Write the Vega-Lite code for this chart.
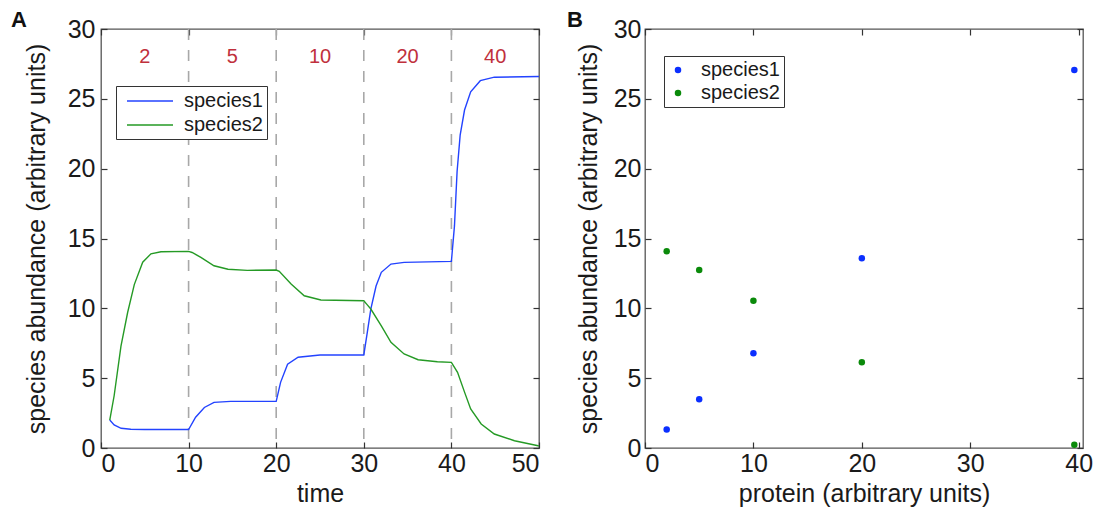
{
  "$schema": "https://vega.github.io/schema/vega-lite/v6.json",
  "background": "white",
  "padding": {"left": 10, "top": 8, "right": 5, "bottom": 5},
  "spacing": 23,
  "resolve": {"scale": {"color": "independent"}, "legend": {"color": "independent"}},
  "config": {
    "font": "Liberation Sans",
    "view": {"stroke": "#555", "strokeWidth": 1.3},
    "axis": {
      "labelFont": "Liberation Sans", "titleFont": "Liberation Sans",
      "labelFontSize": 25, "titleFontSize": 25, "titleFontWeight": "normal",
      "labelColor": "#1a1a1a", "titleColor": "#1a1a1a",
      "domain": false, "grid": false, "tickSize": -6, "tickColor": "#333", "tickWidth": 1.2
    },
    "axisX": {"titlePadding": 5, "labelPadding": 9},
    "axisY": {"labelPadding": 12},
    "legend": {
      "labelFont": "Liberation Sans", "labelFontSize": 20, "labelColor": "#1a1a1a",
      "strokeColor": "#333", "fillColor": "white", "padding": 4, "rowPadding": 3
    },
    "title": {"font": "Liberation Sans", "fontSize": 22, "fontWeight": "bold", "color": "#111"}
  },
  "datasets": {
    "timecourse": [
      {"t": 1.0, "v": 2.0, "species": "species1"},
      {"t": 1.5, "v": 1.65, "species": "species1"},
      {"t": 2.3, "v": 1.41, "species": "species1"},
      {"t": 3.4, "v": 1.34, "species": "species1"},
      {"t": 5, "v": 1.32, "species": "species1"},
      {"t": 10, "v": 1.32, "species": "species1"},
      {"t": 10.8, "v": 2.2, "species": "species1"},
      {"t": 11.8, "v": 2.9, "species": "species1"},
      {"t": 12.9, "v": 3.27, "species": "species1"},
      {"t": 14.8, "v": 3.34, "species": "species1"},
      {"t": 20, "v": 3.34, "species": "species1"},
      {"t": 20.5, "v": 4.7, "species": "species1"},
      {"t": 21.3, "v": 6.0, "species": "species1"},
      {"t": 22.5, "v": 6.5, "species": "species1"},
      {"t": 25, "v": 6.66, "species": "species1"},
      {"t": 30, "v": 6.66, "species": "species1"},
      {"t": 30.4, "v": 8.28, "species": "species1"},
      {"t": 30.8, "v": 9.95, "species": "species1"},
      {"t": 31.4, "v": 11.6, "species": "species1"},
      {"t": 32, "v": 12.58, "species": "species1"},
      {"t": 33.1, "v": 13.17, "species": "species1"},
      {"t": 34.6, "v": 13.29, "species": "species1"},
      {"t": 40, "v": 13.36, "species": "species1"},
      {"t": 40.35, "v": 15.9, "species": "species1"},
      {"t": 40.65, "v": 19.8, "species": "species1"},
      {"t": 41.0, "v": 22.4, "species": "species1"},
      {"t": 41.5, "v": 24.2, "species": "species1"},
      {"t": 42.2, "v": 25.5, "species": "species1"},
      {"t": 43.3, "v": 26.3, "species": "species1"},
      {"t": 44.9, "v": 26.55, "species": "species1"},
      {"t": 50, "v": 26.6, "species": "species1"},
      {"t": 1.0, "v": 2.0, "species": "species2"},
      {"t": 1.5, "v": 3.74, "species": "species2"},
      {"t": 2.28, "v": 7.3, "species": "species2"},
      {"t": 3.04, "v": 9.7, "species": "species2"},
      {"t": 3.8, "v": 11.7, "species": "species2"},
      {"t": 4.76, "v": 13.3, "species": "species2"},
      {"t": 5.7, "v": 13.9, "species": "species2"},
      {"t": 6.85, "v": 14.05, "species": "species2"},
      {"t": 10, "v": 14.08, "species": "species2"},
      {"t": 10.4, "v": 14.0, "species": "species2"},
      {"t": 11.4, "v": 13.65, "species": "species2"},
      {"t": 12.9, "v": 13.05, "species": "species2"},
      {"t": 14.5, "v": 12.8, "species": "species2"},
      {"t": 16.7, "v": 12.72, "species": "species2"},
      {"t": 20, "v": 12.74, "species": "species2"},
      {"t": 20.35, "v": 12.65, "species": "species2"},
      {"t": 21.7, "v": 11.74, "species": "species2"},
      {"t": 23.2, "v": 10.9, "species": "species2"},
      {"t": 25.1, "v": 10.6, "species": "species2"},
      {"t": 30, "v": 10.54, "species": "species2"},
      {"t": 30.4, "v": 10.25, "species": "species2"},
      {"t": 30.8, "v": 9.95, "species": "species2"},
      {"t": 32, "v": 8.75, "species": "species2"},
      {"t": 33.1, "v": 7.57, "species": "species2"},
      {"t": 34.6, "v": 6.73, "species": "species2"},
      {"t": 36.2, "v": 6.32, "species": "species2"},
      {"t": 38.4, "v": 6.18, "species": "species2"},
      {"t": 40, "v": 6.13, "species": "species2"},
      {"t": 40.7, "v": 5.42, "species": "species2"},
      {"t": 41.5, "v": 4.0, "species": "species2"},
      {"t": 42.2, "v": 2.8, "species": "species2"},
      {"t": 43.4, "v": 1.72, "species": "species2"},
      {"t": 44.9, "v": 1.0, "species": "species2"},
      {"t": 47.2, "v": 0.52, "species": "species2"},
      {"t": 49.9, "v": 0.16, "species": "species2"},
      {"t": 50, "v": 0.15, "species": "species2"}
    ],
    "switches": [{"t": 10}, {"t": 20}, {"t": 30}, {"t": 40}],
    "levels": [
      {"t": 5, "protein": "2"},
      {"t": 15, "protein": "5"},
      {"t": 25, "protein": "10"},
      {"t": 35, "protein": "20"},
      {"t": 45, "protein": "40"}
    ],
    "steady": [
      {"protein": 2, "v": 1.32, "species": "species1"},
      {"protein": 5, "v": 3.49, "species": "species1"},
      {"protein": 10, "v": 6.79, "species": "species1"},
      {"protein": 20, "v": 13.59, "species": "species1"},
      {"protein": 39.6, "v": 27.07, "species": "species1"},
      {"protein": 2, "v": 14.09, "species": "species2"},
      {"protein": 5, "v": 12.75, "species": "species2"},
      {"protein": 10, "v": 10.54, "species": "species2"},
      {"protein": 20, "v": 6.14, "species": "species2"},
      {"protein": 39.6, "v": 0.23, "species": "species2"}
    ]
  },
  "hconcat": [
    {
      "width": 438, "height": 419,
      "title": {"text": "A", "anchor": "start", "frame": "group", "dx": -90, "offset": -15},
      "resolve": {"axis": {"x": "independent", "y": "independent"}},
      "layer": [
        {
          "data": {"name": "switches"},
          "mark": {"type": "rule", "color": "#a8a8a8", "strokeWidth": 1.6, "strokeDash": [11, 10]},
          "encoding": {
            "x": {"field": "t", "type": "quantitative", "scale": {"domain": [0, 50], "nice": false},
                  "axis": {"orient": "top", "labels": false, "title": null, "values": [0, 10, 20, 30, 40, 50]}}
          }
        },
        {
          "data": {"name": "levels"},
          "mark": {"type": "text", "color": "#c0303c", "fontSize": 20, "baseline": "middle", "font": "Liberation Sans"},
          "encoding": {
            "x": {"field": "t", "type": "quantitative", "axis": null},
            "y": {"datum": 28, "type": "quantitative", "scale": {"domain": [0, 30], "nice": false},
                  "axis": {"orient": "right", "labels": false, "title": null, "values": [0, 5, 10, 15, 20, 25, 30]}},
            "text": {"field": "protein"}
          }
        },
        {
          "data": {"name": "timecourse"},
          "mark": {"type": "line", "strokeWidth": 1.4},
          "encoding": {
            "x": {"field": "t", "type": "quantitative", "title": "time",
                  "axis": {"values": [0, 10, 20, 30, 40, 50]}},
            "y": {"field": "v", "type": "quantitative", "title": "species abundance (arbitrary units)",
                  "axis": {"values": [0, 5, 10, 15, 20, 25, 30], "titlePadding": 18}},
            "color": {"field": "species", "type": "nominal",
                      "scale": {"domain": ["species1", "species2"], "range": ["#2343ff", "#259a25"]},
                      "legend": {"title": null, "orient": "none", "legendX": 15, "legendY": 57,
                                 "symbolType": "M-0.4,0H4.2", "symbolSize": 400, "symbolStrokeWidth": 1.4,
                                 "labelOffset": 42}}
          }
        }
      ]
    },
    {
      "width": 438, "height": 419,
      "title": {"text": "B", "anchor": "start", "frame": "group", "dx": -78, "offset": -15},
      "resolve": {"axis": {"x": "independent", "y": "independent"}},
      "layer": [
        {
          "data": {"name": "steady"},
          "mark": {"type": "point", "filled": true, "size": 42, "opacity": 1},
          "encoding": {
            "x": {"field": "protein", "type": "quantitative", "title": "protein (arbitrary units)",
                  "scale": {"domain": [0, 40.4], "nice": false},
                  "axis": {"values": [0, 10, 20, 30, 40]}},
            "y": {"field": "v", "type": "quantitative", "title": "species abundance (arbitrary units)",
                  "scale": {"domain": [0, 30], "nice": false},
                  "axis": {"values": [0, 5, 10, 15, 20, 25, 30], "titlePadding": 12, "labelPadding": 10}},
            "color": {"field": "species", "type": "nominal",
                      "scale": {"domain": ["species1", "species2"], "range": ["#0b2fff", "#0a8a0a"]},
                      "legend": {"title": null, "orient": "none", "legendX": 19, "legendY": 27,
                                 "symbolType": "circle", "symbolSize": 42, "symbolOffset": 0, "labelOffset": 13,
                                 "labelExpr": "datum.label + '\u00a0\u00a0\u00a0\u00a0'"}}
          }
        },
        {
          "data": {"name": "steady"},
          "mark": {"type": "point", "opacity": 0},
          "encoding": {
            "x": {"field": "protein", "type": "quantitative",
                  "axis": {"orient": "top", "labels": false, "title": null, "values": [0, 10, 20, 30, 40]}},
            "y": {"field": "v", "type": "quantitative",
                  "axis": {"orient": "right", "labels": false, "title": null, "values": [0, 5, 10, 15, 20, 25, 30]}}
          }
        }
      ]
    }
  ]
}
